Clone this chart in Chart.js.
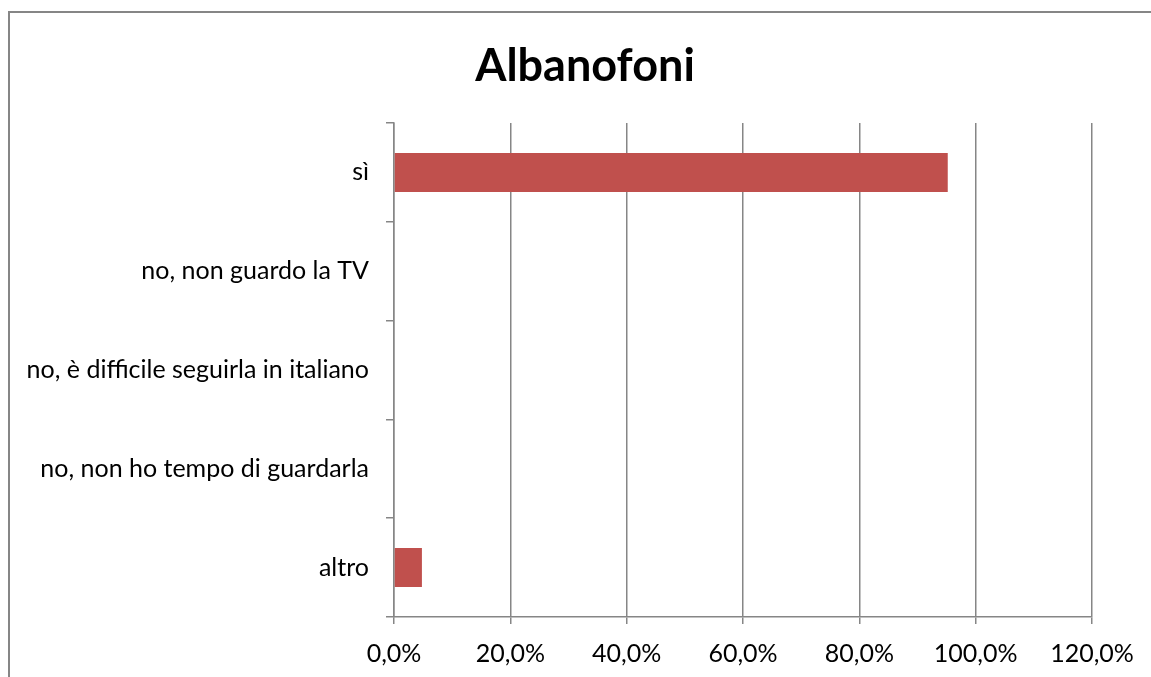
<!DOCTYPE html>
<html>
<head>
<meta charset="utf-8">
<script src="https://cdn.jsdelivr.net/npm/chart.js@4/dist/chart.umd.min.js"></script>
<style>
    html, body { margin: 0; padding: 0; background: #fff; }
    #wrap { width: 1151px; height: 677px; position: relative; }
</style>
</head>
<body>
<div id="wrap"><canvas id="barChart" width="1151" height="677"></canvas></div>
<script>
// chart data
const titleText = "Albanofoni";
const categories = [
    "sì",
    "no, non guardo la TV",
    "no, è difficile seguirla in italiano",
    "no, non ho tempo di guardarla",
    "altro",
];
const percentValues = [95.2, 0, 0, 0, 4.8];
const axisMin = 0;
const axisMax = 120;
const axisStep = 20;

const fontFamily = "Lato, 'Open Sans', sans-serif";
const gridColor = "#868686";

// outer frame (only top + left edges are inside the picture) + title
const framePlugin = {
    id: "frame",
    beforeDraw(chart) {
        const ctx = chart.ctx;
        ctx.save();
        ctx.fillStyle = "#fff";
        ctx.fillRect(0, 0, chart.width, chart.height);
        ctx.strokeStyle = "#868686";
        ctx.lineWidth = 2;
        ctx.beginPath();
        ctx.moveTo(9, chart.height);
        ctx.lineTo(9, 12);
        ctx.lineTo(chart.width, 12);
        ctx.stroke();
        ctx.restore();
    },
    afterDraw(chart) {
        const ctx = chart.ctx;
        ctx.save();
        ctx.fillStyle = "#000";
        ctx.font = "bold 45px " + fontFamily;
        ctx.textAlign = "center";
        ctx.textBaseline = "middle";
        ctx.fillText(titleText, 585, 66);
        ctx.restore();
    },
};

const canvas = document.getElementById("barChart");
if (canvas) {
    new Chart(canvas.getContext("2d"), {
        type: "bar",
        data: {
            labels: categories,
            datasets: [
                {
                    label: titleText,
                    data: percentValues,
                    backgroundColor: "#C0504D",
                    borderWidth: 0,
                    categoryPercentage: 1,
                    barPercentage: 0.395,
                },
            ],
        },
        options: {
            indexAxis: "y",
            responsive: false,
            animation: false,
            layout: { padding: { top: 123, right: 59, left: 0, bottom: 0 } },
            plugins: {
                legend: { display: false },
                tooltip: { enabled: false },
                title: { display: false },
            },
            scales: {
                x: {
                    min: axisMin,
                    max: axisMax,
                    ticks: {
                        stepSize: axisStep,
                        color: "#000",
                        padding: 15,
                        font: { family: fontFamily, size: 25 },
                        maxRotation: 0,
                        callback: (v) => v.toFixed(1).replace(".", ",") + "%",
                    },
                    grid: {
                        color: gridColor,
                        lineWidth: 1.5,
                        tickLength: 7,
                    },
                    border: { color: gridColor, width: 1.5 },
                    afterFit: (scale) => { scale.height = 60; },
                },
                y: {
                    ticks: {
                        color: "#000",
                        padding: 17,
                        font: { family: fontFamily, size: 25 },
                    },
                    grid: {
                        drawOnChartArea: false,
                        color: gridColor,
                        lineWidth: 1.5,
                        tickLength: 8,
                        offset: true,
                    },
                    border: { color: gridColor, width: 1.5 },
                    afterFit: (scale) => { scale.width = 394; },
                },
            },
        },
        plugins: [framePlugin],
    });
}
</script>
</body>
</html>
